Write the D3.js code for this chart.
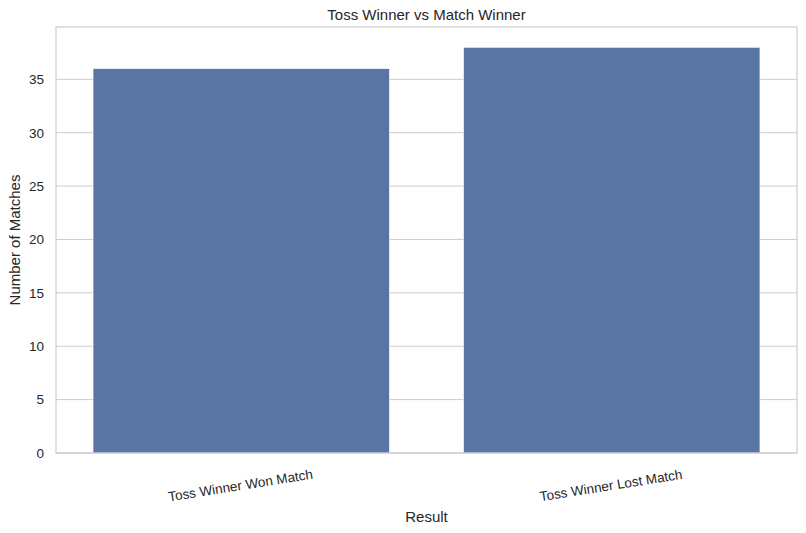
<!DOCTYPE html>
<html>
<head>
<meta charset="utf-8">
<script src="https://cdn.jsdelivr.net/npm/d3@7"></script>
<style>
  html, body { margin: 0; padding: 0; background: #fff; }
  svg { display: block; font-family: "Liberation Sans", Arial, sans-serif; }
</style>
</head>
<body>
<svg id="chart" width="806" height="533"></svg>
<script>
const categories = ["Toss Winner Won Match", "Toss Winner Lost Match"];
const matchCounts = [36, 38];
const yTicks = [0, 5, 10, 15, 20, 25, 30, 35];
const chartTitle = "Toss Winner vs Match Winner";
const xLabel = "Result";
const yLabel = "Number of Matches";

const W = 806, H = 533;
const m = { left: 56, right: 9, top: 27, bottom: 80 };
const iw = W - m.left - m.right, ih = H - m.top - m.bottom;
const svg = d3.select("#chart");
const g = svg.append("g").attr("transform", `translate(${m.left},${m.top})`);

const x = d3.scaleBand().domain(categories).range([0, iw]).paddingInner(0.2).paddingOuter(0.1);
const y = d3.scaleLinear().domain([0, d3.max(matchCounts) * 1.05]).range([ih, 0]);

// grid
g.append("g").selectAll("line").data(yTicks).join("line")
  .attr("x1", 0).attr("x2", iw)
  .attr("y1", d => y(d)).attr("y2", d => y(d))
  .attr("stroke", "#cccccc").attr("stroke-width", 1);

// bars
g.append("g").selectAll("rect").data(categories).join("rect")
  .attr("x", d => x(d))
  .attr("width", x.bandwidth())
  .attr("y", (d, i) => y(matchCounts[i]))
  .attr("height", (d, i) => ih - y(matchCounts[i]))
  .attr("fill", "#5975a4")
  .attr("stroke", "#ffffff").attr("stroke-width", 0.6);

// frame
g.append("rect").attr("x", 0).attr("y", 0).attr("width", iw).attr("height", ih)
  .attr("fill", "none").attr("stroke", "#cccccc").attr("stroke-width", 1.2);

// y axis
const yAxis = g.append("g").call(d3.axisLeft(y).tickValues(yTicks).tickSize(0).tickPadding(12));
yAxis.select(".domain").remove();
yAxis.selectAll("text").attr("fill", "#262626").style("font-size", "13.5px")
  .style("font-family", '"Liberation Sans", Arial, sans-serif');

// x axis
const xAxis = g.append("g").attr("transform", `translate(0,${ih})`)
  .call(d3.axisBottom(x).tickSize(0).tickPadding(0));
xAxis.select(".domain").remove();
xAxis.selectAll("text")
  .attr("fill", "#262626").style("font-size", "13.5px")
  .style("font-family", '"Liberation Sans", Arial, sans-serif')
  .attr("text-anchor", "middle")
  .attr("dy", "0")
  .attr("transform", "translate(0,37) rotate(-9)");

// title
svg.append("text").attr("x", m.left + iw / 2).attr("y", 20)
  .attr("text-anchor", "middle").attr("fill", "#262626").style("font-size", "15px")
  .text(chartTitle);

// axis labels
svg.append("text").attr("x", m.left + iw / 2).attr("y", 522)
  .attr("text-anchor", "middle").attr("fill", "#262626").style("font-size", "15px")
  .text(xLabel);
svg.append("text").attr("transform", `translate(20,${m.top + ih / 2}) rotate(-90)`)
  .attr("text-anchor", "middle").attr("fill", "#262626").style("font-size", "15px")
  .text(yLabel);
</script>
</body>
</html>
